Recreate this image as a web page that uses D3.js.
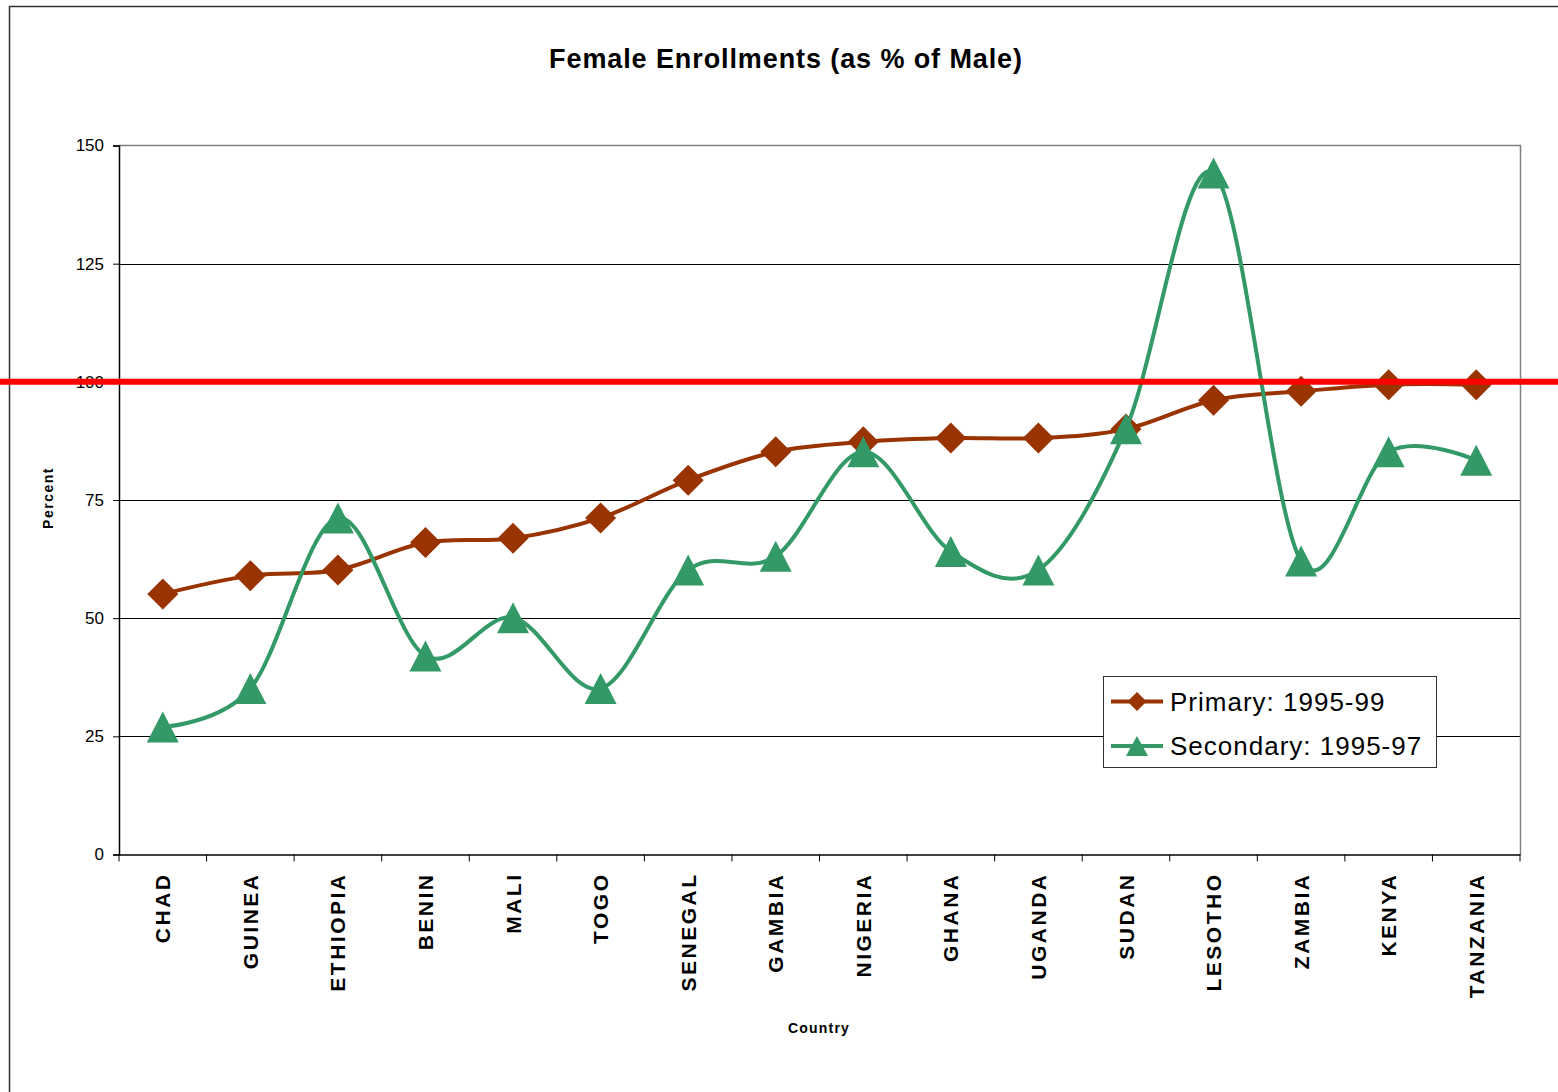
<!DOCTYPE html>
<html><head><meta charset="utf-8">
<script src="https://cdn.jsdelivr.net/npm/d3@7"></script>
<style>body{margin:0;background:#fff;overflow:hidden} svg{display:block}</style>
</head><body><svg id="c" width="1558" height="1092"></svg>
<script>
const countries = ["CHAD","GUINEA","ETHIOPIA","BENIN","MALI","TOGO","SENEGAL","GAMBIA","NIGERIA","GHANA","UGANDA","SUDAN","LESOTHO","ZAMBIA","KENYA","TANZANIA"];
const primary   = [55.1, 59.0, 60.2, 66.0, 66.9, 71.2, 79.2, 85.2, 87.3, 88.1, 88.1, 90.0, 96.1, 98.0, 99.4, 99.4];
const secondary = [27.0, 35.1, 71.2, 42.0, 50.1, 35.1, 60.2, 63.1, 85.2, 64.1, 60.2, 90.1, 144.2, 62.1, 85.2, 83.4];
const yTicks = [0, 25, 50, 75, 100, 125, 150];
const seriesNames = ["Primary: 1995-99", "Secondary: 1995-97"];
const referenceValue = 100;
const titleText = "Female Enrollments (as % of Male)";
const yTitle = "Percent";
const xTitle = "Country";

const FF = "'Comic Sans MS','Liberation Sans',Arial,sans-serif";
const colPrimary = "#993300", colSecondary = "#339966";
const svg = d3.select("#c");
const m = {left:119, top:145.5, right:1520, bottom:854.5};
const x = d3.scaleBand().domain(countries).range([m.left, m.right]);
const y = d3.scaleLinear().domain([0, 150]).range([m.bottom, m.top]);
const cx = d => x(d) + x.bandwidth()/2;

// outer frame
svg.append("rect").attr("x",9.5).attr("y",6.5).attr("width",1600).attr("height",1200)
  .attr("fill","#fff").attr("stroke","#333").attr("stroke-width",1.5);

// title
svg.append("text").attr("x",786).attr("y",68).attr("text-anchor","middle")
  .attr("font-family",FF).attr("font-weight","bold").attr("font-size",27).attr("letter-spacing",0.9).text(titleText);

// gridlines
svg.append("g").selectAll("line").data(yTicks.filter(t=>t>0 && t<150)).join("line")
  .attr("x1",m.left).attr("x2",m.right).attr("y1",d=>Math.round(y(d))+0.5).attr("y2",d=>Math.round(y(d))+0.5)
  .attr("stroke","#000").attr("stroke-width",1);
// plot border top/right
svg.append("path").attr("d",`M${m.left},${m.top}H${m.right+0.5}V${m.bottom}`)
  .attr("fill","none").attr("stroke","#808080").attr("stroke-width",1.5);

// y axis
const yAxis = d3.axisLeft(y).tickValues(yTicks).tickSize(6).tickPadding(9).tickFormat(d3.format("d"));
const gy = svg.append("g").attr("transform",`translate(${m.left},0)`).call(yAxis);
gy.select(".domain").attr("stroke","#000").attr("stroke-width",1.5);
gy.selectAll(".tick line").attr("stroke","#000");
gy.selectAll(".tick text").attr("font-family",FF).attr("font-size",17).attr("fill","#000");

// x axis
const xAxis = d3.axisBottom(x).tickSize(0).tickPadding(0);
const gx = svg.append("g").attr("transform",`translate(0,${m.bottom})`).call(xAxis);
gx.select(".domain").attr("stroke","#000").attr("stroke-width",1.5);
gx.selectAll(".tick text").attr("font-family",FF).attr("font-weight","bold").attr("font-size",21)
  .attr("letter-spacing",2.5)
  .attr("fill","#000").attr("text-anchor","end").attr("dy","0.36em")
  .attr("transform","translate(0,18) rotate(-90)");
// category boundary ticks
const bounds = countries.map(c=>x(c)).concat([m.right]);
svg.append("g").selectAll("line").data(bounds).join("line")
  .attr("x1",d=>d).attr("x2",d=>d).attr("y1",m.bottom).attr("y2",m.bottom+7)
  .attr("stroke","#000").attr("stroke-width",1);

// axis titles
svg.append("text").attr("transform","translate(53,498) rotate(-90)").attr("text-anchor","middle")
  .attr("font-family",FF).attr("font-weight","bold").attr("font-size",14).attr("letter-spacing",1.5).text(yTitle);
svg.append("text").attr("x",819).attr("y",1033).attr("text-anchor","middle")
  .attr("font-family",FF).attr("font-weight","bold").attr("font-size",14).attr("letter-spacing",1.2).text(xTitle);

// lines
const line = d3.line().x((d,i)=>cx(countries[i])).y(d=>y(d)).curve(d3.curveCardinal.tension(0));
const diamond = s => `M0,${-s}L${s},0L0,${s}L${-s},0Z`;
const tri = (w,h) => `M0,${-h}L${w},${h}L${-w},${h}Z`;

svg.append("path").datum(primary).attr("d",line).attr("fill","none")
  .attr("stroke",colPrimary).attr("stroke-width",4);
svg.append("g").selectAll("path").data(primary).join("path")
  .attr("transform",(d,i)=>`translate(${cx(countries[i])},${y(d)})`)
  .attr("d",diamond(15.5)).attr("fill",colPrimary);

svg.append("path").datum(secondary).attr("d",line).attr("fill","none")
  .attr("stroke",colSecondary).attr("stroke-width",4);
svg.append("g").selectAll("path").data(secondary).join("path")
  .attr("transform",(d,i)=>`translate(${cx(countries[i])},${y(d)})`)
  .attr("d",tri(16,15.5)).attr("fill",colSecondary);

// legend
const lg = svg.append("g");
lg.append("rect").attr("x",1103.5).attr("y",676.5).attr("width",333).attr("height",91)
  .attr("fill","#fff").attr("stroke","#333").attr("stroke-width",1);
const rows = [{name:seriesNames[0],col:colPrimary,mk:diamond(9.5),yy:701.5},
              {name:seriesNames[1],col:colSecondary,mk:tri(11,10),yy:746}];
rows.forEach(r=>{
  lg.append("line").attr("x1",1111).attr("x2",1163).attr("y1",r.yy).attr("y2",r.yy)
    .attr("stroke",r.col).attr("stroke-width",4);
  lg.append("path").attr("transform",`translate(1137,${r.yy})`).attr("d",r.mk).attr("fill",r.col);
  lg.append("text").attr("x",1170).attr("y",r.yy).attr("dy","0.35em")
    .attr("font-family",FF).attr("font-size",26).attr("letter-spacing",1).text(r.name);
});

// reference line at 100
svg.append("line").attr("x1",0).attr("x2",1558).attr("y1",y(referenceValue)).attr("y2",y(referenceValue))
  .attr("stroke","#ff0000").attr("stroke-width",6);
</script></body></html>
